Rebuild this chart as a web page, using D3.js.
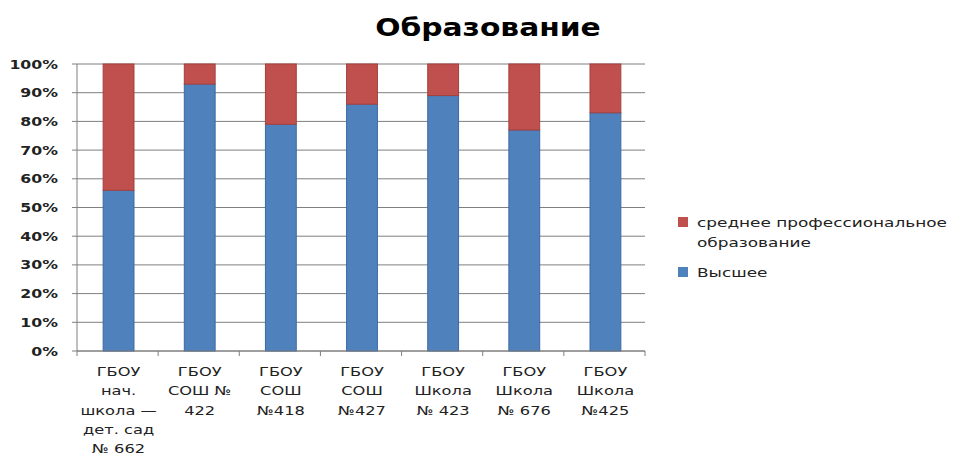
<!DOCTYPE html>
<html>
<head>
<meta charset="utf-8">
<script src="https://cdn.jsdelivr.net/npm/d3@7"></script>
<style>
  body { margin: 0; background: #fff; }
  text { font-family: "DejaVu Sans", sans-serif; fill: #222; }
</style>
</head>
<body>
<svg id="chart" width="958" height="459"></svg>
<script>
// categories (multi-line labels)
const schools = [
  ["ГБОУ", "нач.", "школа —", "дет. сад", "№ 662"],
  ["ГБОУ", "СОШ №", "422"],
  ["ГБОУ", "СОШ", "№418"],
  ["ГБОУ", "СОШ", "№427"],
  ["ГБОУ", "Школа", "№ 423"],
  ["ГБОУ", "Школа", "№ 676"],
  ["ГБОУ", "Школа", "№425"]
];
const higher = [56, 93, 79, 86, 89, 77, 83];          // Высшее
const secondary = [44, 7, 21, 14, 11, 23, 17];        // среднее профессиональное образование
const yTicks = [0, 10, 20, 30, 40, 50, 60, 70, 80, 90, 100];

const svg = d3.select("#chart");
const plotLeft = 77, plotRight = 645, plotTop = 64, plotBottom = 351;
const sx = 1.3; // the picture's text looks horizontally stretched

const x = d3.scaleBand()
  .domain(d3.range(schools.length))
  .range([plotLeft, plotRight])
  .paddingInner(0.62)
  .paddingOuter(0.31);

const y = d3.scaleLinear().domain([0, 100]).range([plotBottom, plotTop]);

// gridlines
svg.append("g")
  .selectAll("line")
  .data(yTicks)
  .enter()
  .append("line")
  .attr("x1", plotLeft - 5)
  .attr("x2", plotRight)
  .attr("y1", d => y(d))
  .attr("y2", d => y(d))
  .attr("stroke", "#7f7f7f")
  .attr("stroke-width", 1);

// y labels
svg.append("g")
  .selectAll("text")
  .data(yTicks)
  .enter()
  .append("text")
  .attr("transform", d => `translate(58,${y(d) + 4.5}) scale(1.26,1)`)
  .attr("text-anchor", "end")
  .style("font-size", "12.5px")
  .style("font-weight", "bold")
  .text(d => d + "%");

// y axis line
svg.append("line")
  .attr("x1", plotLeft).attr("x2", plotLeft)
  .attr("y1", plotTop).attr("y2", plotBottom)
  .attr("stroke", "#7f7f7f");

// stacked data
const stackData = higher.map((h, i) => ({ i, higher: h, secondary: secondary[i] }));
const stack = d3.stack().keys(["higher", "secondary"])(stackData);
const colors = { higher: "#4f81bd", secondary: "#c0504d" };
const strokes = { higher: "#3a6aa3", secondary: "#a3403d" };

svg.append("g")
  .selectAll("g")
  .data(stack)
  .enter()
  .append("g")
  .attr("fill", d => colors[d.key])
  .attr("stroke", d => strokes[d.key])
  .selectAll("rect")
  .data(d => d)
  .enter()
  .append("rect")
  .attr("x", d => x(d.data.i) + 1)
  .attr("width", x.bandwidth())
  .attr("y", d => y(d[1]))
  .attr("height", d => y(d[0]) - y(d[1]));

// x axis line and ticks
svg.append("line")
  .attr("x1", plotLeft).attr("x2", plotRight)
  .attr("y1", plotBottom).attr("y2", plotBottom)
  .attr("stroke", "#7f7f7f");

const step = x.step();
svg.append("g")
  .selectAll("line")
  .data(d3.range(schools.length + 1))
  .enter()
  .append("line")
  .attr("x1", d => plotLeft + d * step)
  .attr("x2", d => plotLeft + d * step)
  .attr("y1", plotBottom)
  .attr("y2", plotBottom + 5)
  .attr("stroke", "#7f7f7f");

// x labels
const xl = svg.append("g")
  .selectAll("text")
  .data(schools)
  .enter()
  .append("text")
  .attr("text-anchor", "middle")
  .style("font-size", "12.5px")
  .attr("transform", (d, i) => `translate(${x(i) + x.bandwidth() / 2 + 1},376) scale(${sx},1)`);

xl.selectAll("tspan")
  .data(d => d)
  .enter()
  .append("tspan")
  .attr("x", 0)
  .attr("y", (d, j) => j * 19.3)
  .text(d => d);

// title
svg.append("text")
  .attr("transform", "translate(488,36) scale(1.19,1)")
  .attr("text-anchor", "middle")
  .style("font-size", "25px")
  .style("font-weight", "bold")
  .style("fill", "#000")
  .text("Образование");

// legend
const legend = [
  { lines: ["среднее профессиональное", "образование"], color: colors.secondary, y: 222 },
  { lines: ["Высшее"], color: colors.higher, y: 272 }
];
const lg = svg.append("g")
  .selectAll("g")
  .data(legend)
  .enter()
  .append("g")
  .attr("transform", d => `translate(678,${d.y})`);

lg.append("rect")
  .attr("x", 0).attr("y", -5)
  .attr("width", 10).attr("height", 10)
  .attr("fill", d => d.color);

lg.append("text")
  .style("font-size", "13px")
  .attr("transform", `translate(19,0) scale(${sx},1)`)
  .selectAll("tspan")
  .data(d => d.lines)
  .enter()
  .append("tspan")
  .attr("x", 0)
  .attr("y", (d, j) => 5 + j * 20)
  .text(d => d);
</script>
</body>
</html>
